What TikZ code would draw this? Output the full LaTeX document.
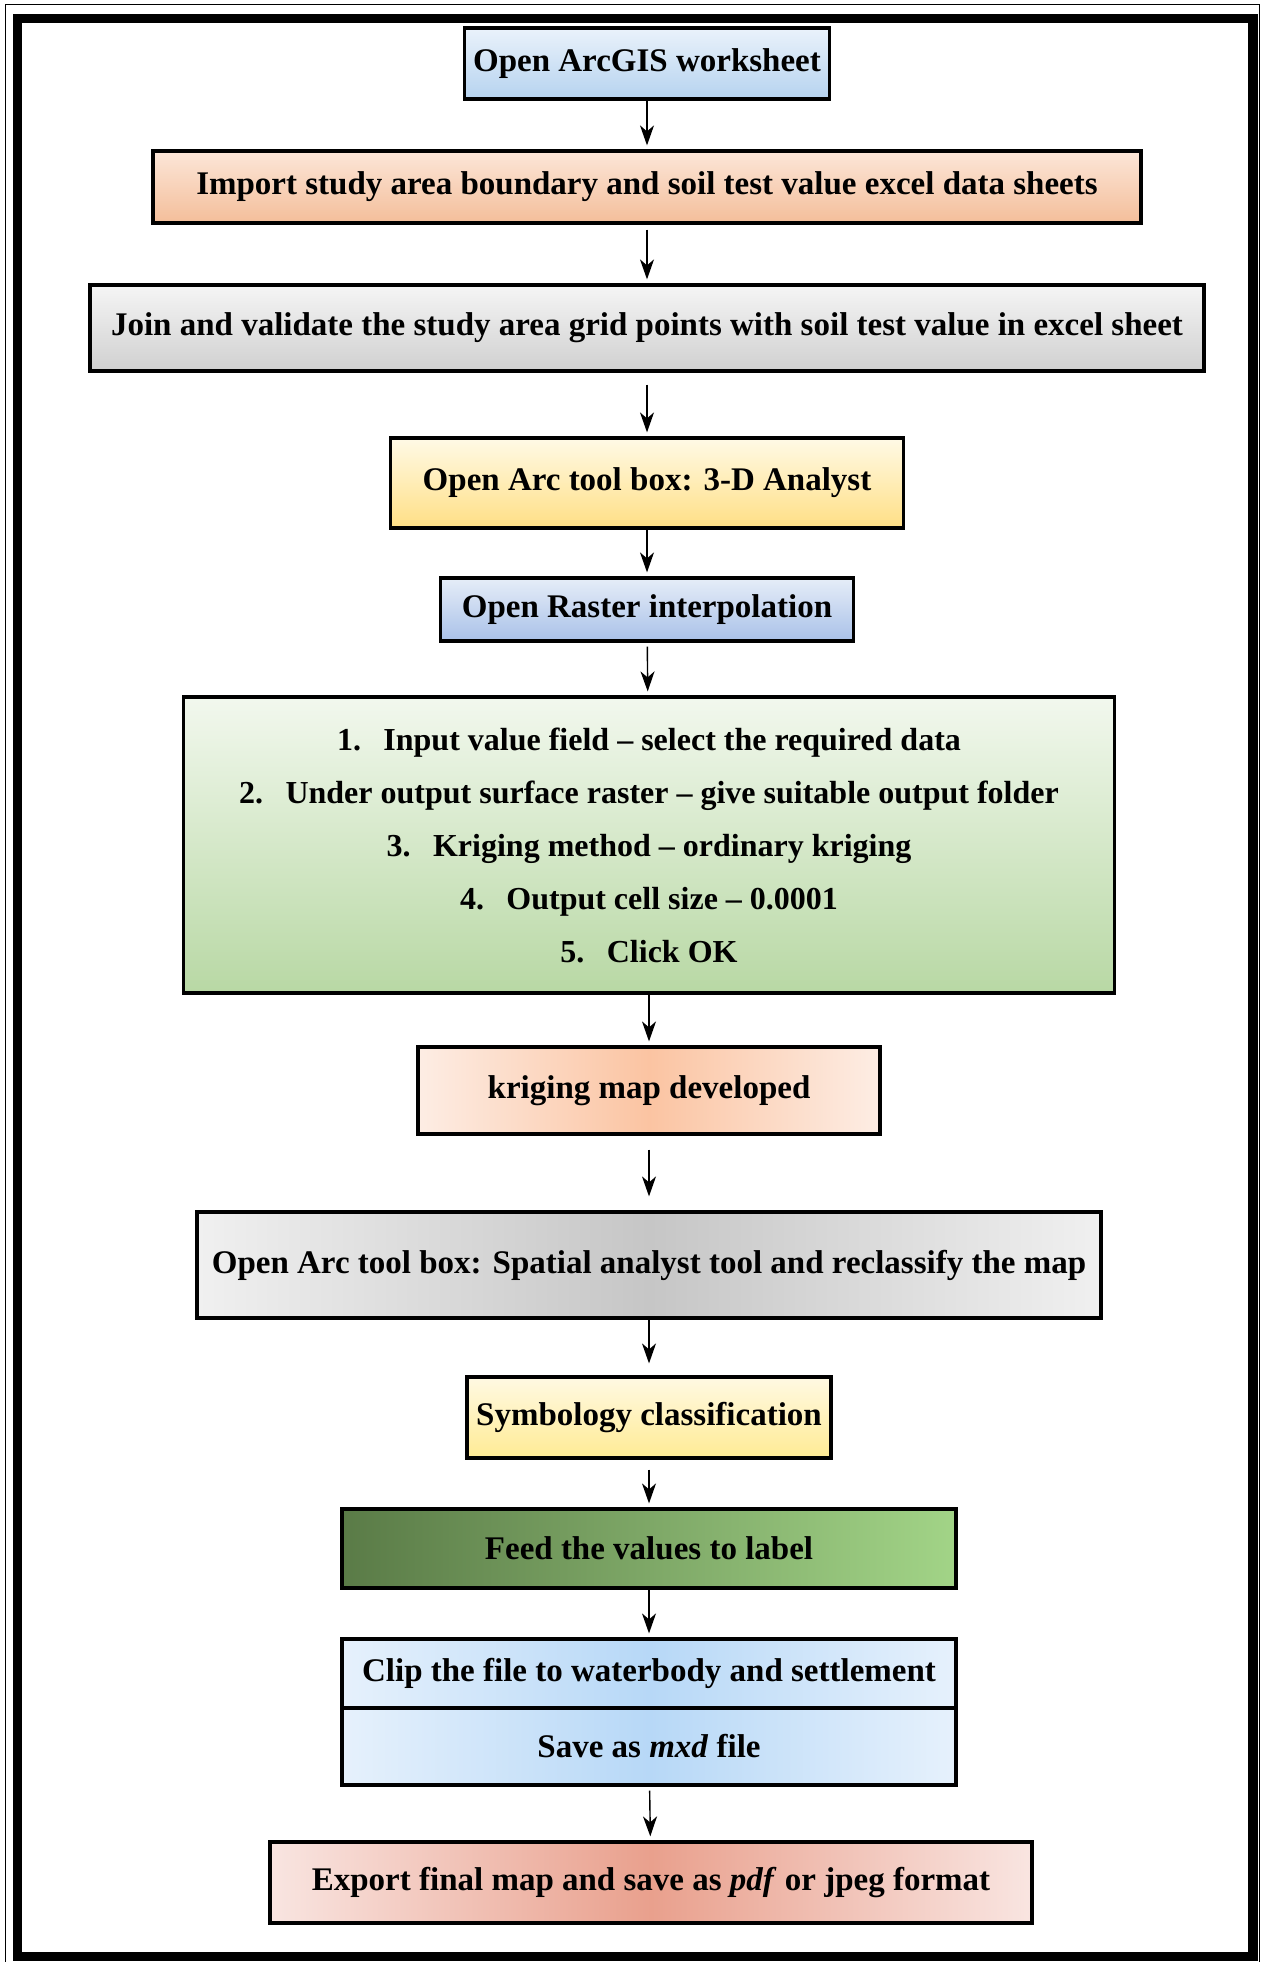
\documentclass[tikz,border=0pt]{standalone}
\usepackage{fontspec}
\setmainfont{Liberation Serif}
\usetikzlibrary{arrows.meta}

\definecolor{openTop}{HTML}{EAF2FB}
\definecolor{openBot}{HTML}{B6D3EF}
\definecolor{impTop}{HTML}{FCE6D8}
\definecolor{impBot}{HTML}{F4BE9A}
\definecolor{joinTop}{HTML}{F5F5F5}
\definecolor{joinBot}{HTML}{D0D0D0}
\definecolor{toolTop}{HTML}{FFFAE6}
\definecolor{toolBot}{HTML}{FFDF85}
\definecolor{rasTop}{HTML}{E6EDF8}
\definecolor{rasBot}{HTML}{A9C1E8}
\definecolor{stepTop}{HTML}{F2F8EE}
\definecolor{stepBot}{HTML}{B8D8A4}
\definecolor{krigEdge}{HTML}{FDEDE4}
\definecolor{krigMid}{HTML}{FBC4A2}
\definecolor{spatEdge}{HTML}{F0F0F0}
\definecolor{spatMid}{HTML}{C6C6C6}
\definecolor{symTop}{HTML}{FFF9E3}
\definecolor{symBot}{HTML}{FFEB94}
\definecolor{feedL}{HTML}{5A7B47}
\definecolor{feedR}{HTML}{A2D487}
\definecolor{clipEdge}{HTML}{E6F1FC}
\definecolor{clipMid}{HTML}{B7D8F7}
\definecolor{expEdge}{HTML}{F9E5E1}
\definecolor{expMid}{HTML}{E9A08D}

\tikzset{
  stepbox/.style={draw=black, line width=1.6pt, inner sep=0pt, align=center,
    font=\bfseries\fontsize{16.5}{19}\selectfont},
  vgrad/.style 2 args={top color=#1, bottom color=#2},
  hgrad/.style 2 args={left color=#1, right color=#1, middle color=#2},
}

\begin{document}
\begin{tikzpicture}[x=0.5pt,y=-0.5pt]
      \useasboundingbox (0,0) rectangle (1261,1962);
      \draw[line width=0.5pt] (5,5) rectangle (1259,1968);
      \draw[line width=4.75pt] (17.5,18.5) rectangle (1253,1956.5);
      \draw
        (647,63.5) node[stepbox, vgrad={openTop}{openBot}, minimum width=182.5pt, minimum height=35.5pt] (open){Open ArcGIS worksheet}
        (647,187) node[stepbox, vgrad={impTop}{impBot}, minimum width=494pt, minimum height=36pt] (import){Import study area boundary and soil test value excel data sheets}
        (647,328) node[stepbox, vgrad={joinTop}{joinBot}, minimum width=557pt, minimum height=43pt] (join){Join and validate the study area grid points with soil test value in excel sheet}
        (647,483) node[stepbox, vgrad={toolTop}{toolBot}, minimum width=256.5pt, minimum height=45pt] (tool3d){Open Arc tool box: 3-D Analyst}
        (647,609.5) node[stepbox, vgrad={rasTop}{rasBot}, minimum width=206.5pt, minimum height=31.5pt] (raster){Open Raster interpolation}
        (649,845) node[stepbox, vgrad={stepTop}{stepBot}, minimum width=465.5pt, minimum height=148pt,
          font=\bfseries\fontsize{16}{26.5}\selectfont] (kriging){1.\hspace{0.7em}Input value field – select the required data\\
          2.\hspace{0.7em}Under output surface raster – give suitable output folder\\
          3.\hspace{0.7em}Kriging method – ordinary kriging\\
          4.\hspace{0.7em}Output cell size – 0.0001\\
          5.\hspace{0.7em}Click OK}
        (649,1090.5) node[stepbox, hgrad={krigEdge}{krigMid}, minimum width=231pt, minimum height=43.5pt] (krigmap){kriging map developed}
        (649,1265) node[stepbox, hgrad={spatEdge}{spatMid}, minimum width=452pt, minimum height=53pt] (spatial){Open Arc tool box: Spatial analyst tool and reclassify the map}
        (649,1417.5) node[stepbox, vgrad={symTop}{symBot}, minimum width=182pt, minimum height=40.5pt] (symbology){Symbology classification}
        (649,1548.5) node[stepbox, left color=feedL, right color=feedR, minimum width=307pt, minimum height=39.5pt] (feed){Feed the values to label}
        (649,1673.5) node[stepbox, hgrad={clipEdge}{clipMid}, minimum width=307pt, minimum height=34.5pt] (clip){Clip the file to waterbody and settlement}
        (649,1746.5) node[stepbox, hgrad={clipEdge}{clipMid}, minimum width=307pt, minimum height=38.5pt] (save){Save as \textit{mxd} file}
        (651,1882.5) node[stepbox, hgrad={expEdge}{expMid}, minimum width=381pt, minimum height=40.5pt] (export){Export final map and save as \textit{pdf} or jpeg format};
      \begin{scope}[-{Stealth[length=10pt,width=7pt,inset=3pt]}, line width=0.7pt, shorten >=2pt]
        \draw (open) to (import);
        \draw[shorten <=2.5pt] (import) to (join);
        \draw[shorten <=6pt] (join) to (tool3d);
        \draw (tool3d) to (raster);
        \draw[shorten <=2pt] (raster) to (kriging);
        \draw (kriging) to (krigmap);
        \draw[shorten <=7pt, shorten >=7pt] (krigmap) to (spatial);
        \draw[shorten >=6pt] (spatial) to (symbology);
        \draw[shorten <=5pt] (symbology) to (feed);
        \draw (feed) to (clip);
        \draw[shorten <=2pt] (save) to (export);
      \end{scope}
    \end{tikzpicture}
\end{document}
